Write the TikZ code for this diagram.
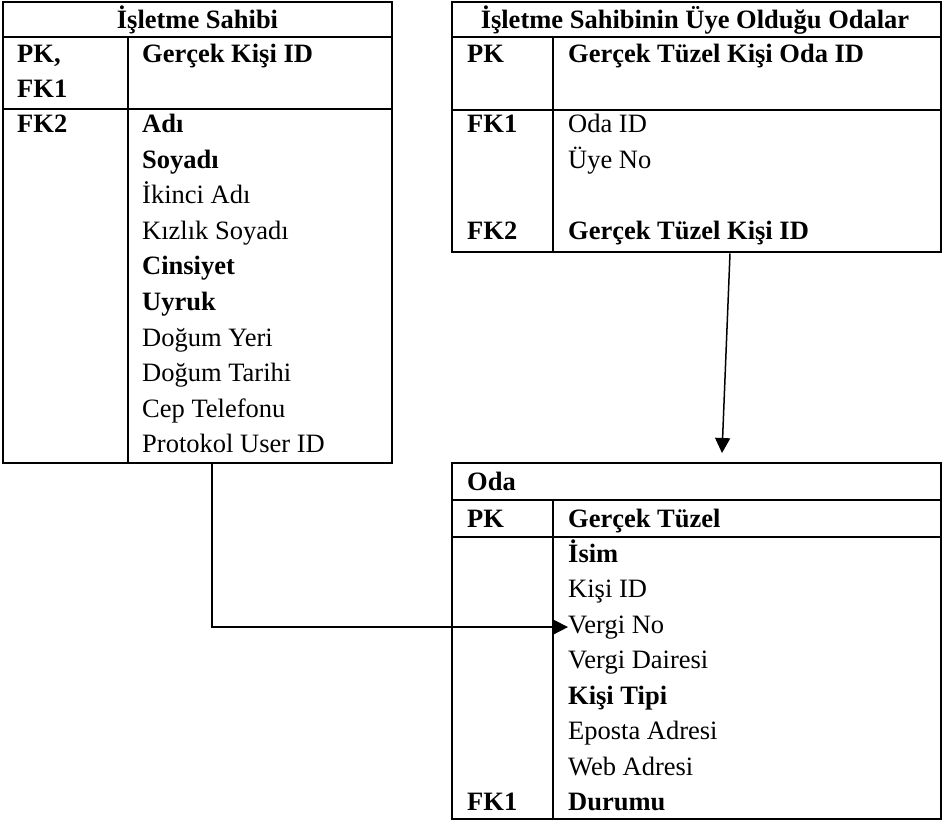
\documentclass[tikz,border=0pt]{standalone}
\usepackage{fontspec}
\setmainfont{Liberation Serif}
\usetikzlibrary{arrows.meta}
\newcommand\fz{\fontsize{26.5pt}{32pt}\selectfont}
\begin{document}
\begin{tikzpicture}[x=1pt,y=-1pt,
  frame/.style={draw, line width=2.2pt, rectangle, inner sep=0pt, outer sep=0pt, anchor=north west},
  rule/.style={line width=2.2pt},
  txt/.style={anchor=base west, inner sep=0pt, font=\fz},
  bf/.style={anchor=base west, inner sep=0pt, font=\fz\bfseries},
  ttl/.style={anchor=base, inner sep=0pt, font=\fz\bfseries},
  conn/.style={line width=1.5pt, -{Triangle[length=15pt,width=15pt]}}]
\useasboundingbox (0,0) rectangle (948,821);

% ---- Table 1: İşletme Sahibi
\node[frame, minimum width=389pt, minimum height=461pt] (t1) at (3,2) {};
\draw[rule] (3,37) -- (392,37);
\draw[rule] (3,109) -- (392,109);
\draw[rule] (128,37) -- (128,463);
\node[ttl] (t1title) at (197.5,29) {İşletme Sahibi};
\node[bf] (t1pk) at (17,63) {PK,};
\node[bf] (t1fk1) at (17,98) {FK1};
\node[bf] (t1fk2) at (17,133) {FK2};
\node[bf] (t1id) at (142,63) {Gerçek Kişi ID};
\foreach \t/\s [count=\i from 0] in {Adı/bf, Soyadı/bf, İkinci Adı/txt, Kızlık Soyadı/txt, Cinsiyet/bf, Uyruk/bf, Doğum Yeri/txt, Doğum Tarihi/txt, Cep Telefonu/txt, Protokol User ID/txt}
  \node[\s] (t1a\i) at (142,{133+35.5*\i}) {\t};

% ---- Table 2: İşletme Sahibinin Üye Olduğu Odalar
\node[frame, minimum width=489pt, minimum height=250pt] (t2) at (452,2) {};
\draw[rule] (452,37) -- (941,37);
\draw[rule] (452,110) -- (941,110);
\draw[rule] (553,37) -- (553,252);
\node[ttl] (t2title) at (695,29) {İşletme Sahibinin Üye Olduğu Odalar};
\node[bf] (t2pk) at (467,63) {PK};
\node[bf] (t2id) at (568,63) {Gerçek Tüzel Kişi Oda ID};
\node[bf] (t2fk1) at (467,133) {FK1};
\node[txt] (t2oda) at (568,133) {Oda ID};
\node[txt] (t2uye) at (568,169) {Üye No};
\node[bf] (t2fk2) at (467,240) {FK2};
\node[bf] (t2gt) at (568,240) {Gerçek Tüzel Kişi ID};

% ---- Table 3: Oda
\node[frame, minimum width=489pt, minimum height=356pt] (t3) at (452,463) {};
\draw[rule] (452,500) -- (941,500);
\draw[rule] (452,537) -- (941,537);
\draw[rule] (553,500) -- (553,819);
\node[bf] (t3title) at (467,490) {Oda};
\node[bf] (t3pk) at (467,527) {PK};
\node[bf] (t3id) at (568,527) {Gerçek Tüzel};
\foreach \t/\s [count=\i from 0] in {İsim/bf, Kişi ID/txt, Vergi No/txt, Vergi Dairesi/txt, Kişi Tipi/bf, Eposta Adresi/txt, Web Adresi/txt, Durumu/bf}
  \node[\s] (t3a\i) at (568,{562+35.5*\i}) {\t};
\node[bf] (t3fk1) at (467,810.5) {FK1};

% ---- Connectors
\coordinate (s1) at ([xshift=14.5pt]t1.south);
\draw[conn] (s1) |- (t3a2.west);
\coordinate (s2) at ([xshift=33.5pt,yshift=-1.5pt]t2.south);
\coordinate (e2) at ([xshift=25.5pt,yshift=10pt]t3.north);
\draw[conn] (s2) -- (e2);
\end{tikzpicture}
\end{document}
